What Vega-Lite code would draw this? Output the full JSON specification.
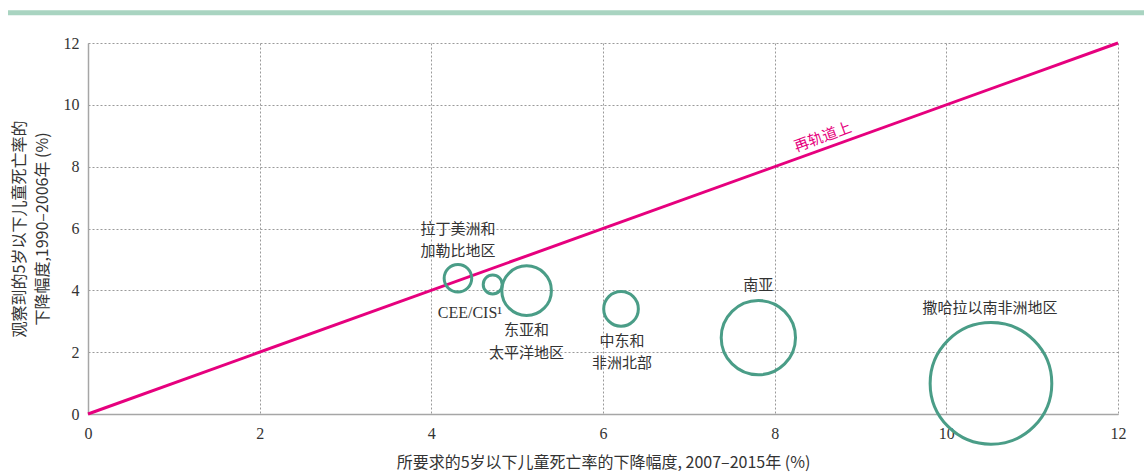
{
  "$schema": "https://vega.github.io/schema/vega-lite/v6.json",
  "width": 1030,
  "height": 371,
  "autosize": {"type": "none"},
  "padding": {"left": 88, "top": 43, "right": 26, "bottom": 62},
  "background": "white",
  "config": {
    "view": {"stroke": null},
    "axis": {
      "domainColor": "#a6a6a6",
      "domainWidth": 1.5,
      "ticks": false,
      "grid": true,
      "gridColor": "#9a9a9a",
      "gridDash": [2, 2],
      "gridWidth": 1,
      "labelFlush": false,
      "labelFont": "Liberation Sans Narrow",
      "labelFontSize": 16,
      "labelColor": "#333333",
      "titleFont": "Noto Sans CJK SC",
      "titleFontSize": 16,
      "titleFontWeight": "normal",
      "titleColor": "#333333"
    }
  },
  "layer": [
    {
      "data": {"values": [{}]},
      "mark": {"type": "rule", "color": "#a9d4c1", "strokeWidth": 5, "clip": false},
      "encoding": {
        "x": {"datum": -0.932, "type": "quantitative"},
        "x2": {"datum": 12.31},
        "y": {"datum": 12.98, "type": "quantitative"}
      }
    },
    {
      "data": {"values": [{"x": 0, "y": 0}, {"x": 12, "y": 12}]},
      "mark": {"type": "line", "color": "#e6007e", "strokeWidth": 3},
      "encoding": {
        "x": {
          "field": "x", "type": "quantitative",
          "scale": {"domain": [0, 12], "nice": false},
          "axis": {
            "values": [0, 2, 4, 6, 8, 10, 12],
            "format": "d",
            "labelPadding": 11,
            "title": "所要求的5岁以下儿童死亡率的下降幅度, 2007–2015年 (%)",
            "titlePadding": 13
          }
        },
        "y": {
          "field": "y", "type": "quantitative",
          "scale": {"domain": [0, 12], "nice": false},
          "axis": {
            "values": [0, 2, 4, 6, 8, 10, 12],
            "format": "d",
            "labelPadding": 9,
            "title": ["观察到的5岁以下儿童死亡率的", "下降幅度,1990–2006年 (%)"],
            "titleLineHeight": 23,
            "titlePadding": 13
          }
        }
      }
    },
    {
      "data": {
        "values": [
          {"region": "拉丁美洲和加勒比地区", "x": 4.31, "y": 4.39, "value": 19},
          {"region": "CEE/CIS", "x": 4.715, "y": 4.19, "value": 9},
          {"region": "东亚和太平洋地区", "x": 5.11, "y": 3.99, "value": 61.5},
          {"region": "中东和非洲北部", "x": 6.21, "y": 3.4, "value": 30},
          {"region": "南亚", "x": 7.81, "y": 2.47, "value": 138},
          {"region": "撒哈拉以南非洲地区", "x": 10.52, "y": 0.99, "value": 370}
        ]
      },
      "mark": {"type": "point", "shape": "circle", "filled": false, "stroke": "#4a9d87", "strokeWidth": 3, "opacity": 1, "clip": false},
      "encoding": {
        "x": {"field": "x", "type": "quantitative"},
        "y": {"field": "y", "type": "quantitative"},
        "size": {"field": "value", "type": "quantitative", "scale": {"domain": [0, 400], "range": [0, 16000]}, "legend": null}
      }
    },
    {
      "data": {
        "values": [
          {"label": "拉丁美洲和", "lx": 4.31, "ly": 6.0},
          {"label": "加勒比地区", "lx": 4.31, "ly": 5.27},
          {"label": "东亚和", "lx": 5.11, "ly": 2.71},
          {"label": "太平洋地区", "lx": 5.11, "ly": 1.98},
          {"label": "中东和", "lx": 6.22, "ly": 2.37},
          {"label": "非洲北部", "lx": 6.22, "ly": 1.64},
          {"label": "南亚", "lx": 7.81, "ly": 4.17},
          {"label": "撒哈拉以南非洲地区", "lx": 10.51, "ly": 3.43}
        ]
      },
      "mark": {"type": "text", "font": "Noto Sans CJK SC", "fontSize": 15, "color": "#333333", "baseline": "middle", "align": "center"},
      "encoding": {
        "x": {"field": "lx", "type": "quantitative"},
        "y": {"field": "ly", "type": "quantitative"},
        "text": {"field": "label"}
      }
    },
    {
      "data": {"values": [{"label": "CEE/CIS¹", "lx": 4.45, "ly": 3.27}]},
      "mark": {"type": "text", "font": "Liberation Sans Narrow", "fontSize": 16, "color": "#333333", "baseline": "middle", "align": "center"},
      "encoding": {
        "x": {"field": "lx", "type": "quantitative"},
        "y": {"field": "ly", "type": "quantitative"},
        "text": {"field": "label"}
      }
    },
    {
      "data": {"values": [{"label": "再轨道上", "lx": 8.56, "ly": 8.96}]},
      "mark": {"type": "text", "font": "Noto Sans CJK SC", "fontSize": 15, "color": "#e6007e", "baseline": "middle", "align": "center", "angle": -20},
      "encoding": {
        "x": {"field": "lx", "type": "quantitative"},
        "y": {"field": "ly", "type": "quantitative"},
        "text": {"field": "label"}
      }
    }
  ]
}
